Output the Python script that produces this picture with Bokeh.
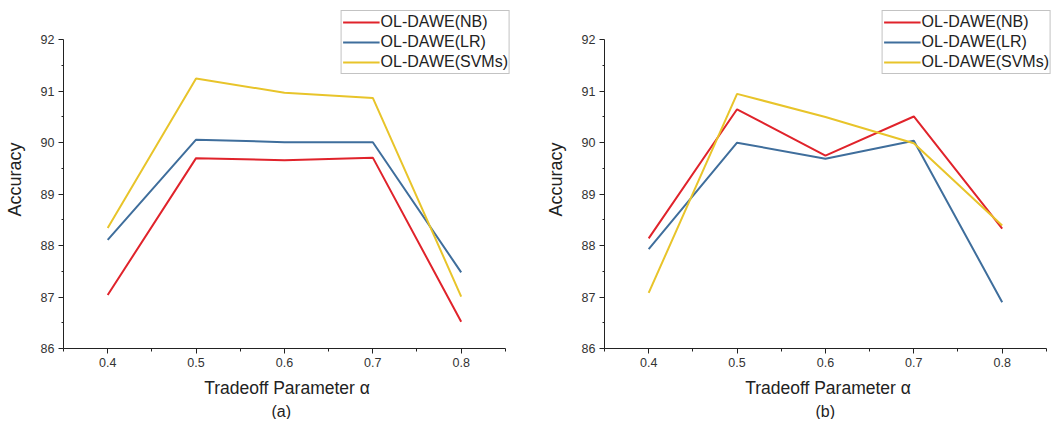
from bokeh.plotting import figure
from bokeh.layouts import row
from bokeh.models import FixedTicker, Range1d, Title, Legend, LegendItem
from bokeh.embed import file_html
from bokeh.resources import INLINE

alpha = [0.4, 0.5, 0.6, 0.7, 0.8]
series_names = ["OL-DAWE(NB)", "OL-DAWE(LR)", "OL-DAWE(SVMs)"]

a_nb = [87.04, 89.70, 89.66, 89.71, 86.52]
a_lr = [88.11, 90.06, 90.01, 90.01, 87.48]
a_svm = [88.34, 91.25, 90.97, 90.87, 87.01]

b_nb = [88.14, 90.65, 89.75, 90.51, 88.33]
b_lr = [87.93, 90.00, 89.69, 90.04, 86.90]
b_svm = [87.08, 90.95, 90.50, 89.99, 88.39]

x_major = [0.4, 0.5, 0.6, 0.7, 0.8]
x_minor = [0.35, 0.45, 0.55, 0.65, 0.75, 0.85]
y_major = [86, 87, 88, 89, 90, 91, 92]
y_minor = [86.5, 87.5, 88.5, 89.5, 90.5, 91.5]

COLORS = ["#E0232B", "#3F6E9C", "#E8C42A"]
FONT = "Liberation Sans"


def make_panel(series, panel_label, border_left, label_offset):
    p = figure(
        frame_width=447, frame_height=338,
        x_range=Range1d(0.35, 0.8558), y_range=Range1d(86, 92.57),
        output_backend="svg", toolbar_location=None,
        min_border_left=border_left, min_border_right=0,
        min_border_top=10, min_border_bottom=0,
    )
    p.outline_line_color = None
    p.xgrid.visible = False
    p.ygrid.visible = False
    p.background_fill_color = "white"

    items = []
    for name, ys, c in zip(series_names, series, COLORS):
        r = p.line(alpha, ys, line_color=c, line_width=2)
        items.append(LegendItem(label=name, renderers=[r]))

    for ax in (p.xaxis[0], p.yaxis[0]):
        ax.axis_line_color = "#222222"
        ax.major_tick_line_color = "#222222"
        ax.minor_tick_line_color = "#222222"
        ax.major_tick_in = 0
        ax.minor_tick_in = 0
        ax.major_label_text_font = FONT
        ax.major_label_text_font_size = "12.5px"
        ax.major_label_text_color = "#333333"
        ax.axis_label_text_font = FONT
        ax.axis_label_text_font_style = "normal"
        ax.axis_label_text_color = "#222222"

    xa = p.xaxis[0]
    xa.ticker = FixedTicker(ticks=x_major, minor_ticks=x_minor)
    xa.bounds = (0.35, 0.85)
    xa.major_tick_out = 5
    xa.minor_tick_out = 3
    xa.major_label_standoff = 4
    xa.axis_label = "Tradeoff Parameter α"
    xa.axis_label_text_font_size = "17.5px"
    xa.axis_label_standoff = 8

    ya = p.yaxis[0]
    ya.ticker = FixedTicker(ticks=y_major, minor_ticks=y_minor)
    ya.bounds = (86, 92)
    ya.major_tick_out = 5
    ya.minor_tick_out = 2
    ya.major_label_standoff = 4
    ya.axis_label = "Accuracy"
    ya.axis_label_text_font_size = "18px"
    ya.axis_label_standoff = 13

    legend = Legend(
        items=items, location="top_right", margin=0, padding=1, spacing=0,
        glyph_width=37, glyph_height=20, label_height=20, label_standoff=1,
        label_text_font=FONT, label_text_font_size="16px",
        label_text_color="#222222",
        border_line_color="#888888", border_line_width=1,
        background_fill_color="white", background_fill_alpha=1,
    )
    p.add_layout(legend)

    p.add_layout(Title(text=panel_label, align="left", offset=label_offset,
                       text_font=FONT, text_font_size="16px",
                       text_font_style="normal", text_color="#222222",
                       standoff=0), "below")
    return p


pa = make_panel([a_nb, a_lr, a_svm], "(a)", 63, 208)
pb = make_panel([b_nb, b_lr, b_svm], "(b)", 94, 211)

layout = row(pa, pb)
open("out.html", "w").write(file_html(layout, INLINE))
